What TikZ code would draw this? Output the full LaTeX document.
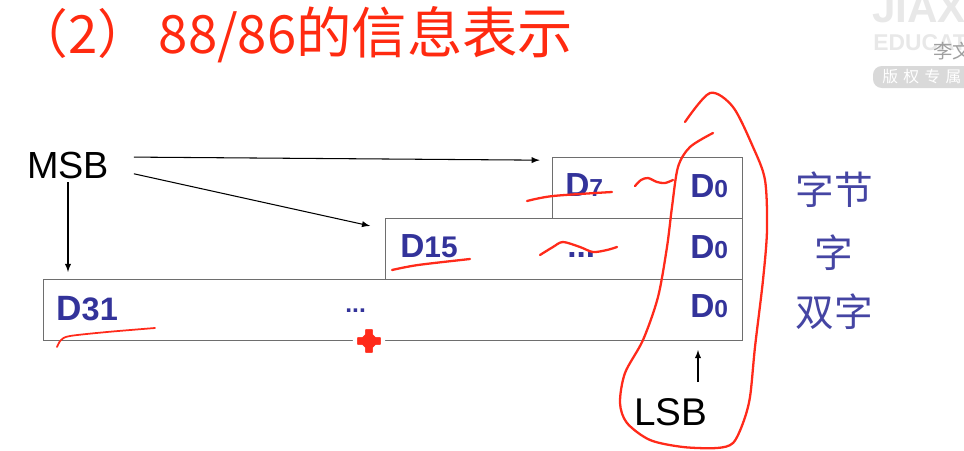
\documentclass[tikz,border=0pt]{standalone}
\usepackage{fontspec}
\setmainfont{Liberation Sans}
\newfontfamily\cjkfont{Noto Sans CJK SC}
\usepackage{tikz}
\usetikzlibrary{arrows}
\definecolor{boxgray}{HTML}{6E6E6E}
\definecolor{bitblue}{HTML}{33339A}
\definecolor{tagblue}{HTML}{4545A3}
\definecolor{inkred}{HTML}{FF2A1A}
\definecolor{titlered}{HTML}{FF2A10}
\newcommand{\bitsmall}[1]{{\fontsize{14}{14}\selectfont #1}}
\begin{document}
\begin{tikzpicture}[x=0.02cm, y=-0.02cm, >=latex,
		box/.style={draw=boxgray, line width=0.7pt, anchor=north west, minimum height=1.22cm, inner sep=0},
		bit/.style={text=bitblue, font=\bfseries\fontsize{19}{19}\selectfont, inner sep=0, anchor=base west},
		tag/.style={text=tagblue, font=\cjkfont\fontsize{22}{22}\selectfont, inner sep=0},
		sb/.style={font=\fontsize{21.5}{21.5}\selectfont, inner sep=0},
		ink/.style={draw=inkred, line width=1.3pt, line cap=round, line join=round}]
		\useasboundingbox (0,0) rectangle (964,450);
		% watermark
		\begin{scope}
			\clip (0,0) rectangle (964,450);
			\fill[gray!30, rounded corners=5pt] (873,66) rectangle (990,88);
			\node[text=gray!18, font=\bfseries\fontsize{24}{24}\selectfont, anchor=base west, inner sep=0] (wmA) at (872,22) {JIAX};
			\node[text=gray!18, font=\bfseries\fontsize{13}{13}\selectfont, anchor=base west, inner sep=0] (wmB) at (873,50) {EDUCAT};
			\node[text=gray!75, font=\cjkfont\fontsize{11}{11}\selectfont, anchor=base west, inner sep=0] (wmC) at (933,58) {李文};
			\node[text=white, font=\cjkfont\fontsize{9}{9}\selectfont, anchor=west, inner sep=0] (wmD) at (882,77) {版\,\,权\,\,专\,\,属};
		\end{scope}
		% title
		\node[text=titlered, font=\cjkfont\fontsize{30}{30}\selectfont, anchor=base west, inner sep=0] (title) at (15,53) {（2）\,88/86{\fontsize{31.5}{31.5}\selectfont 的信息表示}};
		% boxes
		\node[box, minimum width=3.8cm] (byte) at (552,157) {};
		\node[box, minimum width=7.14cm] (word) at (385,218) {};
		\node[box, minimum width=13.98cm] (dword) at (43,279) {};
		\node[bit] (b7) at (565,196) {D\bitsmall{7}};
		\node[bit] (b0) at (690,197) {D\bitsmall{0}};
		\node[bit] (w15) at (400,257) {D{\fontsize{17}{17}\selectfont 15}};
		\node[bit] (wdots) at (567,257) {...};
		\node[bit] (w0) at (690,258) {D\bitsmall{0}};
		\node[bit, font=\bfseries\fontsize{20}{20}\selectfont] (d31) at (56,320) {D{\fontsize{18.5}{18.5}\selectfont 31}};
		\node[bit, font=\bfseries\fontsize{14}{14}\selectfont] (ddots) at (345,312) {...};
		\node[bit] (d0) at (690,317) {D\bitsmall{0}};
		% labels
		\node[tag] (tbyte) at (834,190) {字节};
		\node[tag] (tword) at (834,253) {字};
		\node[tag] (tdword) at (834,312) {双字};
		\node[sb, inner xsep=14pt, inner ysep=2pt] (msb) at (68,165) {MSB};
		\node[sb, font=\fontsize{22}{22}\selectfont] (lsb) at (671,412) {LSB};
		\coordinate (lsbtip) at (698,350);
		\path[->, line width=0.6pt]
		([yshift=4.5pt]msb.east) edge ([xshift=-7pt,yshift=-1.8pt]byte.north west)
		([yshift=-5pt]msb.east) edge ([xshift=-8.5pt,yshift=-4.5pt]word.north west)
		(msb.south) edge ([yshift=4pt]msb.south |- dword.north)
		;
		\draw[->, line width=0.6pt, shorten <=9pt] (lsb.north -| lsbtip) -- (lsbtip);
		% pen marks
		\draw[ink] plot[smooth] coordinates {(527,201) (553,196) (612,192)};
		\draw[ink] plot[smooth] coordinates {(635,186) (641,180) (648,178) (657,182) (665,183) (673,180)};
		\draw[ink] plot[smooth] coordinates {(392,270) (418,265) (470,259)};
		\draw[ink] plot[smooth] coordinates {(540,255) (553,247) (563,242) (580,247) (593,252) (607,250) (617,247)};
		\draw[ink, line width=1pt] plot[smooth] coordinates {(57,347) (61,340) (70,336) (107,332) (155,328)};
		\draw[ink] plot[smooth] coordinates {(685,122) (710,93) (733,107) (753,147) (765,180) (767,230) (763,280) (755,347) (750,397) (743,423) (733,443) (717,448) (683,447) (650,440) (627,423) (620,403) (625,373) (643,340) (658,297) (667,247) (672,207) (678,167) (690,147) (713,133)};
		% cursor
		\draw[white, line width=2.5pt, fill=inkred, rounded corners=1pt] (363,327) -- (375,327) -- (375,335) -- (383,335) -- (383,347) -- (375,347) -- (375,355) -- (363,355) -- (363,347) -- (355,347) -- (355,335) -- (363,335) -- cycle;
	\end{tikzpicture}
\end{document}
